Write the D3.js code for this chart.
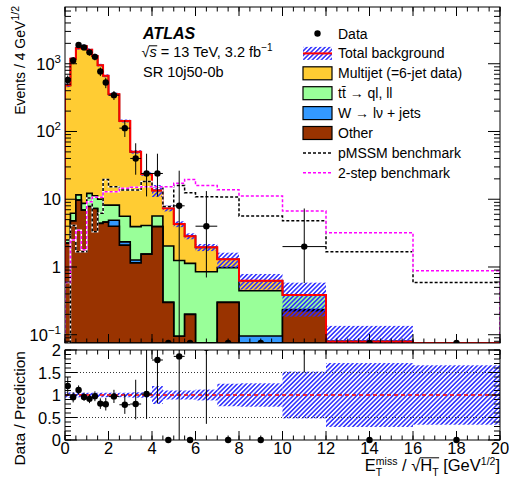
<!DOCTYPE html>
<html>
<head>
<meta charset="utf-8">
<script src="https://cdn.jsdelivr.net/npm/d3@7"></script>
<style>
  body { margin: 0; background: #fff; }
  svg text { font-family: "Liberation Sans", Arial, Helvetica, sans-serif; fill: #000; white-space: pre; }
</style>
</head>
<body>
<script>
// binning in ETmiss / sqrt(HT)  [GeV^1/2]
const binEdges = [0, 0.25, 0.5, 0.75, 1, 1.25, 1.5, 1.75, 2, 2.5, 3, 3.5, 4, 4.5, 5, 5.5, 6, 7, 8, 10, 12, 16, 20];

// stacked backgrounds, Events / 4 GeV^1/2
const multijet = [477.5, 1173.8, 1688.4, 1811.3, 1597.8, 1288.8, 940, 656.8, 346.8, 137.4, 46.1, 19.4, 7.84, 5.31, 3.06, 1.72, 1.1, 0.32, 0.18, 0.001, 0, 0];
const ttbar    = [0.25, 1.4, 1.9, 1.8, 4.4, 3.9, 5.6, 3.6, 3.3, 3.25, 2.67, 2.55, 1.72, 1.74, 1.15, 0.93, 0.85, 0.68, 0.35, 0.15, 0, 0];
const wjets    = [0, 0, 0, 0, 0, 0, 0, 0, 0.9, 0.25, 0.12, 0, 0, 0, 0, 0, 0, 0, 0.096, 0.008, 0, 0];
const other    = [2.25, 4.8, 9.7, 6.9, 7.8, 7.3, 4.4, 4.6, 4.0, 2.1, 1.15, 1.55, 3.94, 0.3, 0.095, 0.2, 0, 0.3, 0, 0.227, 0.079, 0.03];
// relative uncertainty on total background
const bkgUnc   = [0.06, 0.05, 0.05, 0.05, 0.05, 0.05, 0.05, 0.05, 0.05, 0.05, 0.06, 0.06, 0.2, 0.1, 0.1, 0.1, 0.12, 0.25, 0.26, 0.52, 0.71, 0.66];

// data
const dataVals  = [576, 1120, 1888, 1744, 1472, 1264, 768, 528, 344, 112, 40, 24, 24, 0, 8, 0, 4, 0, 0, 2, 0, 0];
const dataErrLo = [96, 134, 174, 167, 153, 142, 111, 92, 52, 29, 17, 13, 13, 0, 8, 0, 3.3, 0, 0, 1.42, 0, 0];
const dataErrHi = [96, 134, 174, 167, 153, 142, 111, 92, 52, 34, 27, 23, 23, 0, 18.4, 0, 9.2, 0, 0, 5.3, 0, 0];

// signal benchmarks
const pmssm   = [0.05, 4.1, 1.68, 1.68, 10.4, 3.3, 6.2, 19.5, 15.3, 13.7, 13.7, 18.2, 15.3, 7.8, 16, 12.5, 10.9, 10.8, 5.66, 4.8, 1.68, 0.59];
const twoStep = [0.59, 2.5, 3.5, 1.8, 9.2, 10.7, 10.7, 12.9, 12.9, 14.5, 15, 15.3, 15.3, 15.3, 17.2, 19.6, 16, 13.8, 11.2, 6.7, 3.2, 0.88];

// axes
const xTicks = [0, 2, 4, 6, 8, 10, 12, 14, 16, 18, 20];
const yDecades = [0.1, 1, 10, 100, 1000];
const yDecadeLabels = [['10', '\u22121'], ['1', ''], ['10', ''], ['10', '2'], ['10', '3']];
const ratioTicks = [0, 0.5, 1, 1.5, 2];
const ratioLabels = ['0', '0.5', '1', '1.5', '2'];

const legendLabels = ['Data', 'Total background', 'Multijet (=6-jet data)', 'tt\u0304 \u2192 ql, ll', 'W \u2192 l\u03bd + jets', 'Other', 'pMSSM benchmark', '2-step benchmark'];

const colors = { multijet: '#ffcc33', ttbar: '#99ff99', wjets: '#3399ff', other: '#993300', hatch: '#2b2bff', total: '#ff0000', twoStep: '#ff00ff' };

// layout
const W = 509, H = 480;
const frameL = 65, frameR = 500, mainTop = 7, mainBot = 343, ratTop = 350, ratBot = 440;

const nb = dataVals.length;
const total = d3.range(nb).map(i => multijet[i] + ttbar[i] + wjets[i] + other[i]);
const cumOWT = d3.range(nb).map(i => other[i] + wjets[i] + ttbar[i]);
const cumOW = d3.range(nb).map(i => other[i] + wjets[i]);

const x = d3.scaleLinear().domain([0, 20]).range([frameL, frameR]);
const y = d3.scaleLog().domain([0.0755, 6880]).range([mainBot, mainTop]).clamp(true);
const yr = d3.scaleLinear().domain([0, 2]).range([ratBot, ratTop]);
const ylog = v => y(Math.max(v, 1e-4));

const svg = d3.select('body').append('svg').attr('width', W).attr('height', H);
const defs = svg.append('defs');

defs.append('clipPath').attr('id', 'clipMain')
  .append('rect').attr('x', frameL).attr('y', mainTop).attr('width', frameR - frameL).attr('height', mainBot - mainTop);
defs.append('clipPath').attr('id', 'clipRatio')
  .append('rect').attr('x', frameL).attr('y', ratTop).attr('width', frameR - frameL).attr('height', ratBot - ratTop);

const hatch = defs.append('pattern').attr('id', 'hatch')
  .attr('patternUnits', 'userSpaceOnUse').attr('width', 3.2).attr('height', 3.2)
  .attr('patternTransform', 'rotate(45)');
hatch.append('line').attr('x1', 0.8).attr('y1', 0).attr('x2', 0.8).attr('y2', 3.2)
  .attr('stroke', colors.hatch).attr('stroke-width', 1.5);

// step helpers
const stepPts = vals => vals.map((v, i) => [binEdges[i], v]).concat([[binEdges[nb], vals[nb - 1]]]);
const stepArea = d3.area().curve(d3.curveStepAfter).x(d => x(d[0])).y0(mainBot).y1(d => ylog(d[1]));
const stepLine = d3.line().curve(d3.curveStepAfter).x(d => x(d[0])).y(d => ylog(d[1]));
const openStep = vals => [[binEdges[0], 1e-4]].concat(stepPts(vals)).concat([[binEdges[nb], 1e-4]]);

//main panel
let main = svg.append('g').attr('clip-path', 'url(#clipMain)');

[[total, colors.multijet], [cumOWT, colors.ttbar], [cumOW, colors.wjets], [other, colors.other]]
  .forEach(([vals, col]) => {
    main.append('path')
      .attr('d', stepArea(stepPts(vals)))
      .attr('fill', col)
      .attr('stroke', '#000')
      .attr('stroke-width', 1.6);
  });

// uncertainty band
main.append('g').selectAll('rect')
  .data(d3.range(nb))
  .enter()
  .append('rect')
  .attr('x', i => x(binEdges[i]))
  .attr('width', i => x(binEdges[i + 1]) - x(binEdges[i]))
  .attr('y', i => ylog(total[i] * (1 + bkgUnc[i])))
  .attr('height', i => ylog(total[i] * (1 - bkgUnc[i])) - ylog(total[i] * (1 + bkgUnc[i])))
  .attr('fill', 'url(#hatch)');

// total line
main.append('path')
  .attr('d', stepLine(openStep(total)))
  .attr('fill', 'none')
  .attr('stroke', colors.total)
  .attr('stroke-width', 2);

// benchmarks
[[pmssm, '#000'], [twoStep, colors.twoStep]].forEach(([vals, col]) => {
  main.append('path').attr('d', stepLine(openStep(vals)))
    .attr('fill', 'none').attr('stroke', '#fff').attr('stroke-width', 1.5);
  main.append('path').attr('d', stepLine(openStep(vals)))
    .attr('fill', 'none').attr('stroke', col).attr('stroke-width', 1.5)
    .attr('stroke-dasharray', '3,2');
});

// data points
const pts = d3.range(nb).map(i => ({
  i: i,
  lo: binEdges[i], hi: binEdges[i + 1],
  xc: (binEdges[i] + binEdges[i + 1]) / 2,
  v: dataVals[i], eLo: dataErrLo[i], eHi: dataErrHi[i], tot: total[i]
}));

let dataG = main.append('g');
dataG.selectAll('line.ey')
  .data(pts.filter(d => d.v > 0))
  .enter().append('line')
  .attr('x1', d => x(d.xc)).attr('x2', d => x(d.xc))
  .attr('y1', d => ylog(d.v - d.eLo)).attr('y2', d => ylog(d.v + d.eHi))
  .attr('stroke', '#000').attr('stroke-width', 1);
dataG.selectAll('line.ex')
  .data(pts.filter(d => d.v > 0))
  .enter().append('line')
  .attr('x1', d => x(d.lo)).attr('x2', d => x(d.hi))
  .attr('y1', d => ylog(d.v)).attr('y2', d => ylog(d.v))
  .attr('stroke', '#000').attr('stroke-width', 1);
dataG.selectAll('circle')
  .data(pts)
  .enter().append('circle')
  .attr('cx', d => x(d.xc))
  .attr('cy', d => d.v > 0 ? ylog(d.v) : mainBot)
  .attr('r', 3.2)
  .attr('fill', '#000');

//ratio panel
let ratio = svg.append('g').attr('clip-path', 'url(#clipRatio)');

ratio.append('g').selectAll('rect')
  .data(d3.range(nb))
  .enter().append('rect')
  .attr('x', i => x(binEdges[i]))
  .attr('width', i => x(binEdges[i + 1]) - x(binEdges[i]))
  .attr('y', i => yr(1 + bkgUnc[i]))
  .attr('height', i => yr(1 - bkgUnc[i]) - yr(1 + bkgUnc[i]))
  .attr('fill', 'url(#hatch)');

[0.5, 1.5].forEach(v => {
  ratio.append('line')
    .attr('x1', frameL).attr('x2', frameR).attr('y1', yr(v)).attr('y2', yr(v))
    .attr('stroke', '#333').attr('stroke-width', 1).attr('stroke-dasharray', '1,2');
});
ratio.append('line')
  .attr('x1', frameL).attr('x2', frameR).attr('y1', yr(1)).attr('y2', yr(1))
  .attr('stroke', colors.total).attr('stroke-width', 1.5).attr('stroke-dasharray', '4,3');

const rpts = pts.filter(d => d.v > 0);
ratio.selectAll('line.rey')
  .data(rpts)
  .enter().append('line')
  .attr('x1', d => x(d.xc)).attr('x2', d => x(d.xc))
  .attr('y1', d => yr((d.v - d.eLo) / d.tot)).attr('y2', d => yr((d.v + d.eHi) / d.tot))
  .attr('stroke', '#000').attr('stroke-width', 1);
ratio.selectAll('line.rex')
  .data(rpts)
  .enter().append('line')
  .attr('x1', d => x(d.lo)).attr('x2', d => x(d.hi))
  .attr('y1', d => yr(d.v / d.tot)).attr('y2', d => yr(d.v / d.tot))
  .attr('stroke', '#000').attr('stroke-width', 1);
ratio.selectAll('circle')
  .data(rpts)
  .enter().append('circle')
  .attr('cx', d => x(d.xc)).attr('cy', d => yr(d.v / d.tot))
  .attr('r', 3.2).attr('fill', '#000');
// empty bins sit on the axis
svg.append('g').selectAll('circle')
  .data(pts.filter(d => d.v === 0))
  .enter().append('circle')
  .attr('cx', d => x(d.xc)).attr('cy', yr(0))
  .attr('r', 3.2).attr('fill', '#000');

//frames and ticks
const axes = svg.append('g').attr('stroke', '#000').attr('stroke-width', 1);
[[mainTop, mainBot], [ratTop, ratBot]].forEach(([t, b]) => {
  axes.append('rect').attr('x', frameL).attr('y', t)
    .attr('width', frameR - frameL).attr('height', b - t).attr('fill', 'none');
});

const xMinor = d3.range(0, 20.01, 0.5);
function xTickLines(top, bot, vals, len) {
  vals.forEach(v => {
    axes.append('line').attr('x1', x(v)).attr('x2', x(v)).attr('y1', bot).attr('y2', bot - len);
    axes.append('line').attr('x1', x(v)).attr('x2', x(v)).attr('y1', top).attr('y2', top + len);
  });
}
function yTickLines(scale, vals, len) {
  vals.forEach(v => {
    axes.append('line').attr('x1', frameL).attr('x2', frameL + len).attr('y1', scale(v)).attr('y2', scale(v));
    axes.append('line').attr('x1', frameR).attr('x2', frameR - len).attr('y1', scale(v)).attr('y2', scale(v));
  });
}
xTickLines(mainTop, mainBot, xMinor, 4.5);
xTickLines(mainTop, mainBot, xTicks, 9);
xTickLines(ratTop, ratBot, xMinor, 4.5);
xTickLines(ratTop, ratBot, xTicks, 9);

const logMinor = [];
[0.01, 0.1, 1, 10, 100, 1000].forEach(d => d3.range(2, 10).forEach(k => {
  const v = d * k;
  if (v > 0.0755 && v < 6880) logMinor.push(v);
}));
yTickLines(y, logMinor, 6);
yTickLines(y, yDecades, 12);
yTickLines(yr, d3.range(0, 2.001, 0.1), 6);
yTickLines(yr, ratioTicks, 12);

//labels
const labelSize = 16.5;
const lab = svg.append('g').style('font-size', labelSize + 'px');

lab.selectAll('text.xl')
  .data(xTicks)
  .enter().append('text')
  .attr('x', d => x(d)).attr('y', 454)
  .attr('text-anchor', 'middle')
  .text(d => d);

yDecades.forEach((v, k) => {
  const t = lab.append('text').attr('x', 61).attr('y', y(v) + 6).attr('text-anchor', 'end');
  t.append('tspan').text(yDecadeLabels[k][0]);
  if (yDecadeLabels[k][1]) {
    t.append('tspan').attr('dy', -7).style('font-size', '11.5px').text(yDecadeLabels[k][1]);
  }
});

lab.selectAll('text.yr')
  .data(ratioTicks)
  .enter().append('text')
  .attr('x', 61).attr('y', d => yr(d) + 6)
  .attr('text-anchor', 'end')
  .text((d, k) => ratioLabels[k]);

// text built from pieces (sub/superscripts stacked like ROOT)
function richText(parent, parts, size) {
  const g = parent.append('g');
  let cx = 0, hold = null;
  parts.forEach(p => {
    const fs = p.size || size;
    const px = hold ? hold.x : cx;
    const t = g.append('text').attr('x', px).attr('y', p.dy || 0)
      .style('font-size', fs + 'px').text(p.t);
    if (p.italic) t.style('font-style', 'italic');
    if (p.bold) t.style('font-weight', 'bold');
    const w = t.node().getComputedTextLength();
    p.x = px; p.w = w;
    if (p.hold) {
      hold = { x: cx, w: w };
    } else if (hold) {
      cx = hold.x + Math.max(w, hold.w);
      hold = null;
    } else {
      cx += w;
    }
  });
  return { g: g, width: cx };
}

// x title
const xParts = [
  { t: 'E' },
  { t: 'miss', size: 10.5, dy: -6.5, hold: true },
  { t: 'T', size: 10.5, dy: 4.5 },
  { t: ' / ' },
  { t: '\u221a' },
  { t: 'H' },
  { t: 'T', size: 10.5, dy: 4.5 },
  { t: ' [GeV' },
  { t: '1/2', size: 10.5, dy: -6.5 },
  { t: ']' }
];
const xTitle = richText(svg, xParts, 16.5);
xTitle.g.attr('transform', `translate(${frameR - xTitle.width}, 471)`);
xTitle.g.append('line')
  .attr('x1', xParts[4].x + xParts[4].w - 0.5).attr('x2', xParts[6].x + xParts[6].w + 0.5)
  .attr('y1', -13.2).attr('y2', -13.2)
  .attr('stroke', '#000').attr('stroke-width', 1);

// y titles
const yTitle = richText(svg, [{ t: 'Events / 4 GeV' }, { t: '1/2', size: 10.5, dy: -6.5 }], 14);
yTitle.g.attr('transform', `translate(25, ${6 + yTitle.width}) rotate(-90)`);

const rTitle = richText(svg, [{ t: 'Data / Prediction' }], 15.5);
rTitle.g.attr('transform', `translate(25, ${351 + rTitle.width}) rotate(-90)`);

// ATLAS label
const atlas = richText(svg, [{ t: 'ATLAS', bold: true, italic: true }], 16);
atlas.g.attr('transform', 'translate(143, 39.3)');

const lumiParts = [
  { t: '\u221a' },
  { t: 's', italic: true },
  { t: ' = 13 TeV, 3.2 fb' },
  { t: '\u22121', size: 10, dy: -6 }
];
const lumi = richText(svg, lumiParts, 14.5);
lumi.g.attr('transform', 'translate(141.5, 57.3)');
lumi.g.append('line')
  .attr('x1', lumiParts[0].x + lumiParts[0].w - 0.5).attr('x2', lumiParts[1].x + lumiParts[1].w + 0.5)
  .attr('y1', -11.5).attr('y2', -11.5)
  .attr('stroke', '#000').attr('stroke-width', 1);

const region = richText(svg, [{ t: 'SR 10j50-0b' }], 14.5);
region.g.attr('transform', 'translate(143, 77.3)');

//legend
const legX = 303, legW = 29, legH = 13, legY0 = 33.5, legDy = 19.9;
let legend = svg.append('g').attr('id', 'legend');

legendLabels.forEach((lbl, k) => {
  const cy = legY0 + k * legDy;
  legend.append('text').attr('x', 338).attr('y', cy + 5).style('font-size', '14px').text(lbl);
});

const cy = k => legY0 + k * legDy;
legend.append('circle').attr('cx', legX + legW / 2).attr('cy', cy(0)).attr('r', 3.2).attr('fill', '#000');
legend.append('rect').attr('x', legX).attr('y', cy(1) - legH / 2).attr('width', legW).attr('height', legH)
  .attr('fill', 'url(#hatch)');
legend.append('line').attr('x1', legX).attr('x2', legX + legW).attr('y1', cy(1)).attr('y2', cy(1))
  .attr('stroke', colors.total).attr('stroke-width', 2);
[colors.multijet, colors.ttbar, colors.wjets, colors.other].forEach((col, j) => {
  legend.append('rect').attr('x', legX).attr('y', cy(j + 2) - legH / 2).attr('width', legW).attr('height', legH)
    .attr('fill', col).attr('stroke', '#000').attr('stroke-width', 1.2);
});
[['#000', 6], [colors.twoStep, 7]].forEach(([col, k]) => {
  legend.append('line').attr('x1', legX).attr('x2', legX + legW).attr('y1', cy(k)).attr('y2', cy(k))
    .attr('stroke', col).attr('stroke-width', 1.5).attr('stroke-dasharray', '3,2');
});
</script>
</body>
</html>
